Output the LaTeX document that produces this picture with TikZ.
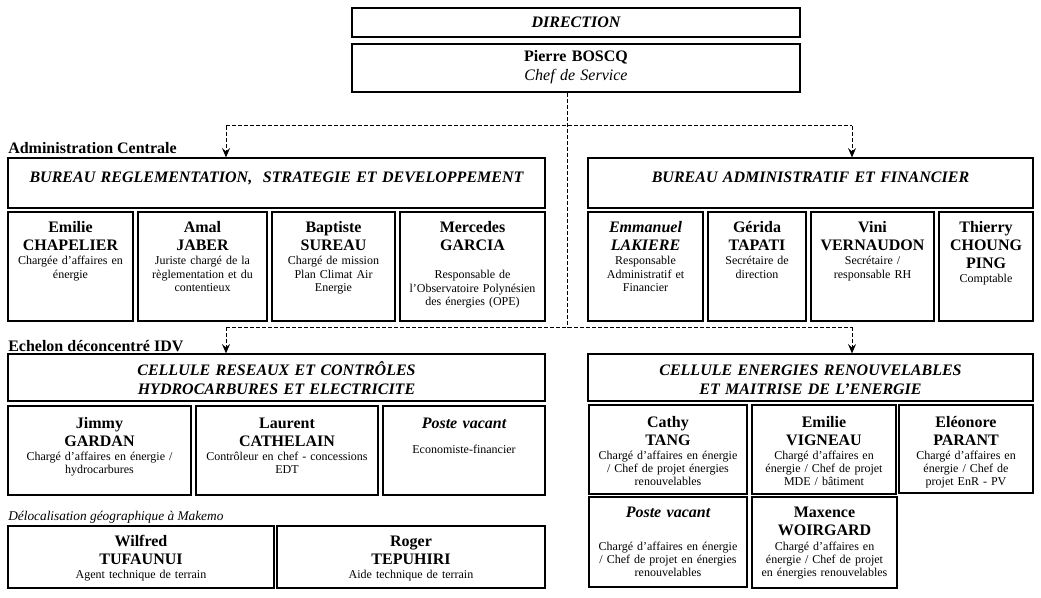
\documentclass[tikz,border=0pt]{standalone}
\usepackage{fontspec}
\setmainfont{Liberation Serif}
\usetikzlibrary{arrows.meta,fit}
\begin{document}
\begin{tikzpicture}[x=0.75pt,y=-0.75pt,
 box/.style={draw, line width=0.9pt, inner sep=0pt},
 txt/.style={anchor=base, inner sep=0pt, text width=190pt, align=center},
 hdr/.style={txt, text width=400pt, font=\fontsize{12}{14.25}\selectfont\bfseries\itshape},
 nm/.style={txt, font=\fontsize{12}{13.5}\selectfont\bfseries},
 nmi/.style={txt, font=\fontsize{12}{13.5}\selectfont\bfseries\itshape},
 rl/.style={txt, font=\fontsize{9}{10}\selectfont},
 lbl/.style={anchor=base west, inner sep=0pt, font=\fontsize{12}{14}\selectfont\bfseries},
 conn/.style={line width=0.75pt, dash pattern=on 3pt off 1.5pt},
 arr/.style={conn, -{Stealth[length=7pt,width=6pt,inset=2.5pt]}}
]
\useasboundingbox (0,0) rectangle (1041,598);

% top
\node[box, fit={(352,8)(800,37)}] (dir) {};
\node[hdr] (dirt) at (576,28) {DIRECTION};
\node[box, fit={(352,44)(800,92)}] (boscq) {};
\node[txt, text width=300pt, font=\fontsize{12}{14.25}\selectfont] (boscqt) at (576,62) {\textbf{Pierre BOSCQ}\\\textit{Chef de Service}};

% labels
\node[lbl] (adm) at (8,154) {Administration Centrale};
\node[lbl] (ech) at (8,351) {Echelon déconcentré IDV};
\node[anchor=base west, inner sep=0pt, font=\fontsize{10}{12}\selectfont\itshape] (deloc) at (8,520) {Délocalisation géographique à Makemo};

% bureaux
\node[box, fit={(8,158)(545,208)}] (bureauL) {};
\node[hdr] (bureauLt) at (276.5,183) {BUREAU REGLEMENTATION,\ \ STRATEGIE ET DEVELOPPEMENT};
\node[box, fit={(588,158)(1033,208)}] (bureauR) {};
\node[hdr] (bureauRt) at (810.5,183) {BUREAU ADMINISTRATIF ET FINANCIER};

% cellules
\node[box, fit={(8,354)(545,401)}] (cellL) {};
\node[hdr] (cellLt) at (276.5,375) {CELLULE RESEAUX ET CONTRÔLES\\HYDROCARBURES ET ELECTRICITE};
\node[box, fit={(588,354)(1033,401)}] (cellR) {};
\node[hdr] (cellRt) at (810.5,375) {CELLULE ENERGIES RENOUVELABLES\\ET MAITRISE DE L’ENERGIE};

% row 1 left
\node[box, fit={(8,212)(133,321)}] (emilie) {};
\node[nm] (emilien) at (70.5,233) {Emilie\\CHAPELIER};
\node[rl] (emilier) at (70.5,265) {Chargée d’affaires en\\énergie};
\node[box, fit={(138,212)(267,321)}] (amal) {};
\node[nm] (amaln) at (202.5,233) {Amal\\JABER};
\node[rl] (amalr) at (202.5,265) {Juriste chargé de la\\règlementation et du\\contentieux};
\node[box, fit={(272,212)(395,321)}] (baptiste) {};
\node[nm] (baptisten) at (333.5,233) {Baptiste\\SUREAU};
\node[rl] (baptister) at (333.5,265) {Chargé de mission\\Plan Climat Air\\Energie};
\node[box, fit={(400,212)(545,321)}] (mercedes) {};
\node[nm] (mercedesn) at (472.5,233) {Mercedes\\GARCIA};
\node[rl] (mercedesr) at (472.5,279) {Responsable de\\l’Observatoire Polynésien\\des énergies (OPE)};

% row 1 right
\node[box, fit={(588,212)(703,321)}] (emmanuel) {};
\node[nmi] (emmanueln) at (645.5,233) {Emmanuel\\LAKIERE};
\node[rl] (emmanuelr) at (645.5,265) {Responsable\\Administratif et\\Financier};
\node[box, fit={(708,212)(806,321)}] (gerida) {};
\node[nm] (geridan) at (757,233) {Gérida\\TAPATI};
\node[rl] (geridar) at (757,265) {Secrétaire de\\direction};
\node[box, fit={(811,212)(934,321)}] (vini) {};
\node[nm] (vinin) at (872.5,233) {Vini\\VERNAUDON};
\node[rl] (vinir) at (872.5,265) {Secrétaire /\\responsable RH};
\node[box, fit={(939,212)(1033,321)}] (thierry) {};
\node[nm] (thierryn) at (986,233) {Thierry\\CHOUNG\\PING};
\node[rl] (thierryr) at (986,283) {Comptable};

% row 2 left
\node[box, fit={(8,406)(191,495)}] (jimmy) {};
\node[nm] (jimmyn) at (99.5,428) {Jimmy\\GARDAN};
\node[rl] (jimmyr) at (99.5,460) {Chargé d’affaires en énergie /\\hydrocarbures};
\node[box, fit={(196,406)(378,495)}] (laurent) {};
\node[nm] (laurentn) at (287,428) {Laurent\\CATHELAIN};
\node[rl] (laurentr) at (287,460) {Contrôleur en chef - concessions\\EDT};
\node[box, fit={(383,406)(545,495)}] (vacL) {};
\node[nmi] (vacLn) at (464,428) {Poste vacant};
\node[rl] (vacLr) at (464,453) {Economiste-financier};

% row 2 right
\node[box, fit={(589,405)(747,494)}] (cathy) {};
\node[nm] (cathyn) at (668,427) {Cathy\\TANG};
\node[rl] (cathyr) at (668,459) {Chargé d’affaires en énergie\\/ Chef de projet énergies\\renouvelables};
\node[box, fit={(752,405)(896,494)}] (vigneau) {};
\node[nm] (vigneaun) at (824,427) {Emilie\\VIGNEAU};
\node[rl] (vigneaur) at (824,459) {Chargé d’affaires en\\énergie / Chef de projet\\MDE / bâtiment};
\node[box, fit={(899,405)(1033,493)}] (parant) {};
\node[nm] (parantn) at (966,427) {Eléonore\\PARANT};
\node[rl] (parantr) at (966,459) {Chargé d’affaires en\\énergie / Chef de\\projet EnR - PV};

% row 3 right
\node[box, fit={(589,497)(747,587)}] (vacR) {};
\node[nmi] (vacRn) at (668,517) {Poste vacant};
\node[rl] (vacRr) at (668,550) {Chargé d’affaires en énergie\\/ Chef de projet en énergies\\renouvelables};
\node[box, fit={(752,497)(897,588)}] (maxence) {};
\node[nm] (maxencen) at (824.5,517) {Maxence\\WOIRGARD};
\node[rl] (maxencer) at (824.5,550) {Chargé d’affaires en\\énergie / Chef de projet\\en énergies renouvelables};

% row 3 left
\node[box, fit={(8,526)(274,588)}] (wilfred) {};
\node[nm] (wilfredn) at (141,546) {Wilfred\\TUFAUNUI};
\node[rl] (wilfredr) at (141,578) {Agent technique de terrain};
\node[box, fit={(277,526)(545,588)}] (roger) {};
\node[nm] (rogern) at (411,546) {Roger\\TEPUHIRI};
\node[rl] (rogerr) at (411,578) {Aide technique de terrain};

% connectors
\coordinate (jA) at (567,126);
\coordinate (jB) at (567,327);
\coordinate (aL) at (226,126);
\coordinate (aR) at (852,126);
\coordinate (bL) at (226,327);
\coordinate (bR) at (852,327);
\draw[conn] (jA |- boscq.south) -- (jB);
\draw[conn] (aL) -- (aR);
\draw[conn] (bL) -- (bR);
\draw[arr] (aL) -- (aL |- bureauL.north);
\draw[arr] (aR) -- (aR |- bureauR.north);
\draw[arr] (bL) -- (bL |- cellL.north);
\draw[arr] (bR) -- (bR |- cellR.north);
\end{tikzpicture}
\end{document}
